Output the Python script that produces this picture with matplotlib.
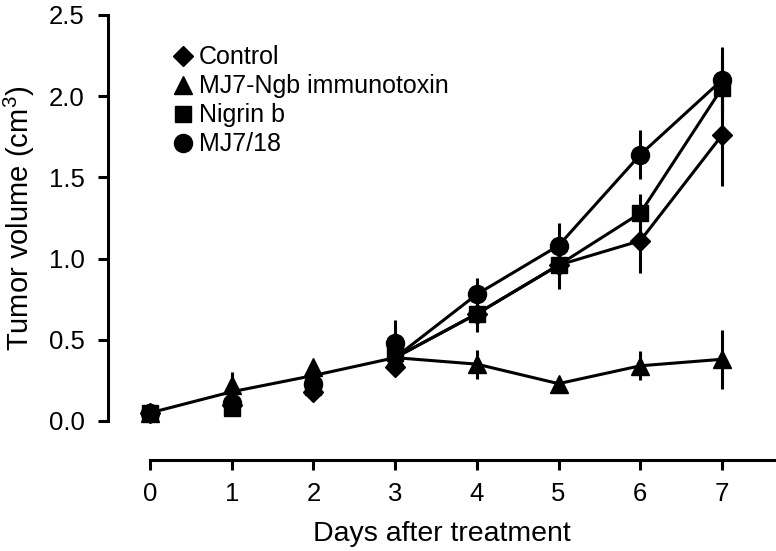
import matplotlib
matplotlib.use("Agg")
import matplotlib.pyplot as plt
import numpy as np

plt.rcParams['font.family'] = ['Liberation Sans', 'DejaVu Sans']
plt.rcParams['mathtext.default'] = 'regular'

# Données
days = [0, 1, 2, 3, 4, 5, 6, 7]
labels = ['Control', 'MJ7-Ngb immunotoxin', 'Nigrin b', 'MJ7/18']
markers = ['D', '^', 's', 'o']
msizes = [10, 13, 11, 13]

control = [0.05, 0.10, 0.18, 0.33, 0.66, 0.96, 1.11, 1.76]
control_err = [0.0, 0.02, 0.03, 0.05, 0.11, 0.15, 0.20, 0.31]
immunotoxin = [0.05, 0.22, 0.33, 0.39, 0.35, 0.23, 0.34, 0.38]
immunotoxin_err = [0.0, 0.08, 0.03, 0.03, 0.09, 0.02, 0.09, 0.18]
nigrin = [0.05, 0.08, 0.21, 0.42, 0.66, 0.96, 1.28, 2.05]
nigrin_err = [0.0, 0.0, 0.0, 0.05, 0.05, 0.10, 0.12, 0.20]
mj718 = [0.05, 0.11, 0.23, 0.48, 0.78, 1.08, 1.64, 2.10]
mj718_err = [0.0, 0.02, 0.02, 0.14, 0.10, 0.14, 0.15, 0.20]

# ligne commune jusqu'au jour 3, puis une ligne par groupe
pooled_days = [0, 1, 2, 3]
pooled = [0.05, 0.18, 0.28, 0.39]

series = [control, immunotoxin, nigrin, mj718]
errors = [control_err, immunotoxin_err, nigrin_err, mj718_err]

fig = plt.figure(figsize=(7.76, 5.51), dpi=100)
ax = fig.add_axes([108 / 776, 130 / 551, 668 / 776, 406 / 551])

lw = 2.2
ax.plot(pooled_days, pooled, color='black', lw=lw, clip_on=False, zorder=2)
for vals in series:
    ax.plot([3] + days[4:], [pooled[-1]] + vals[4:], color='black', lw=lw,
            clip_on=False, zorder=2)

handles = []
for vals, err, m, ms, lab in zip(series, errors, markers, msizes, labels):
    ax.errorbar(days, vals, yerr=err, fmt='none', ecolor='black', elinewidth=lw,
                capsize=0, clip_on=False, zorder=3)
    h, = ax.plot(days, vals, linestyle='none', marker=m, markersize=ms,
                 color='black', clip_on=False, zorder=4, label=lab)
    handles.append(h)

ax.set_xlim(-0.514, 7.661)
ax.set_ylim(0, 2.5)

for s in ['top', 'right']:
    ax.spines[s].set_visible(False)
ax.spines['left'].set_linewidth(lw)
ax.spines['bottom'].set_linewidth(lw)
ax.spines['left'].set_bounds(0, 2.5)
ax.spines['bottom'].set_bounds(0, 7.661)
ax.spines['bottom'].set_position(('outward', 28))

ax.set_xticks(days)
ax.set_yticks([0.0, 0.5, 1.0, 1.5, 2.0, 2.5])
ax.set_yticklabels(['0.0', '0.5', '1.0', '1.5', '2.0', '2.5'])
ax.tick_params(axis='both', length=7, width=lw, labelsize=18.5, colors='black')
ax.tick_params(axis='y', pad=10)
ax.tick_params(axis='x', pad=9)

ax.set_xlabel('Days after treatment', fontsize=20.5, labelpad=11)
ax.set_ylabel('Tumor volume (cm$^{3}$)', fontsize=21, labelpad=8)

ax.legend(handles=handles, loc='upper left', bbox_to_anchor=(0.082, 0.95),
          frameon=False, fontsize=18, handlelength=0.8, handletextpad=0.25,
          labelspacing=0.2, borderaxespad=0)

fig.savefig('out.png', dpi=100)
